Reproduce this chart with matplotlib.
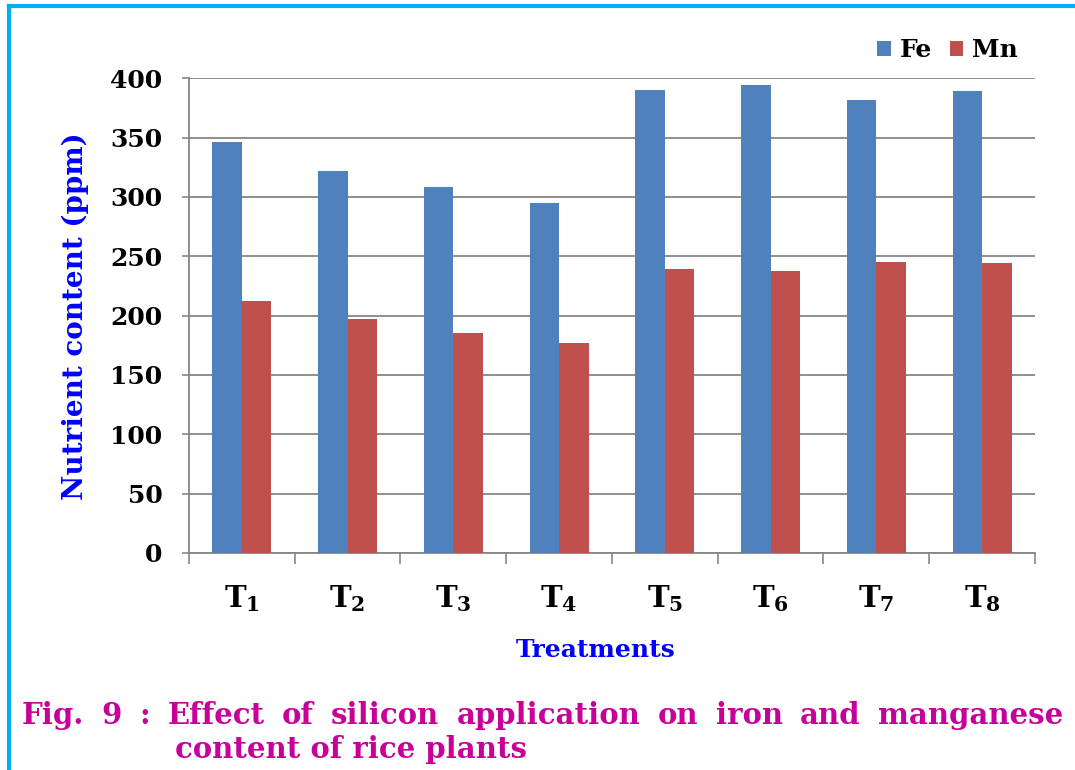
import matplotlib
matplotlib.use("Agg")
import matplotlib.pyplot as plt
from matplotlib.lines import Line2D
import numpy as np

treatments = ["1", "2", "3", "4", "5", "6", "7", "8"]
fe = [346, 322, 308, 295, 390, 394, 382, 389]
mn = [212, 197, 185, 177, 239, 238, 245, 244]
y_ticks = [0, 50, 100, 150, 200, 250, 300, 350, 400]

caption_1 = "Fig. 9 : Effect of silicon application on iron and manganese"
caption_2 = "content of rice plants"

plt.rcParams["font.family"] = ["DejaVu Serif"]
plt.rcParams["font.weight"] = "bold"
plt.rcParams["mathtext.fontset"] = "dejavuserif"

W, H = 1075, 770
fig = plt.figure(figsize=(W / 100, H / 100), dpi=100)
ax = fig.add_axes([189 / W, 1 - 553 / H, (1035 - 189) / W, (553 - 78.3) / H])

grey = "#868686"
x = np.arange(len(treatments))
bw = 0.28
ax.bar(x - bw / 2, fe, bw, color="#4F81BD", label="Fe", zorder=3)
ax.bar(x + bw / 2, mn, bw, color="#C0504D", label="Mn", zorder=3)

ax.set_xlim(-0.5, len(treatments) - 0.5)
ax.set_ylim(0, 400)
ax.set_yticks(y_ticks)
ax.set_yticklabels([str(v) for v in y_ticks], fontsize=18, fontweight="bold")
ax.set_xticks(x)
ax.set_xticklabels([r"$\mathbf{T}_{\mathbf{%s}}$" % t for t in treatments], fontsize=21)
ax.set_xticks(np.arange(len(treatments) + 1) - 0.5, minor=True)
ax.tick_params(axis="x", which="major", length=0, pad=22)
ax.tick_params(axis="x", which="minor", length=8, width=1.2, color=grey)
ax.tick_params(axis="y", length=5, width=1.2, color=grey, pad=14)

ax.grid(axis="y", color=grey, linewidth=1.3, zorder=0)
for s in ["top", "right"]:
    ax.spines[s].set_visible(False)
for s in ["left", "bottom"]:
    ax.spines[s].set_color(grey)
    ax.spines[s].set_linewidth(1.3)

fig.text(596 / W, 1 - 650 / H, "Treatments", color="#0000FF", fontsize=18,
         fontweight="bold", ha="center", va="center")
fig.text(75 / W, 1 - 316 / H, "Nutrient content (ppm)", color="#0000FF",
         fontsize=20, fontweight="bold", rotation=90, ha="center", va="center")

ax.legend(loc="upper right", bbox_to_anchor=(1033 / W, 1 - 23 / H),
          bbox_transform=fig.transFigure, ncol=2, frameon=False,
          prop={"size": 18, "weight": "bold"}, handlelength=0.55,
          handleheight=0.55, handletextpad=0.35, columnspacing=0.7,
          borderpad=0.1)

# frame lines along the top and left edge
cyan = "#00B0F0"
fig.add_artist(Line2D([8.5 / W, 1], [1 - 5.5 / H, 1 - 5.5 / H], color=cyan, lw=3))
fig.add_artist(Line2D([8.5 / W, 8.5 / W], [0, 1 - 5.5 / H], color=cyan, lw=3))

# justified first caption line
magenta = "#C8009A"
words = caption_1.split()
left, right = 22, 1063
fig.canvas.draw()
r = fig.canvas.get_renderer()
texts = [fig.text(0, 1 - 716 / H, w, color=magenta, fontsize=21,
                  fontweight="bold", va="center") for w in words]
widths = [t.get_window_extent(r).width for t in texts]
gap = (right - left - sum(widths)) / (len(words) - 1)
pos = left
for t, w in zip(texts, widths):
    t.set_x(pos / W)
    pos += w + gap
fig.text(175 / W, 1 - 750 / H, caption_2, color=magenta, fontsize=21,
         fontweight="bold", va="center")

fig.savefig("out.png", dpi=100)
